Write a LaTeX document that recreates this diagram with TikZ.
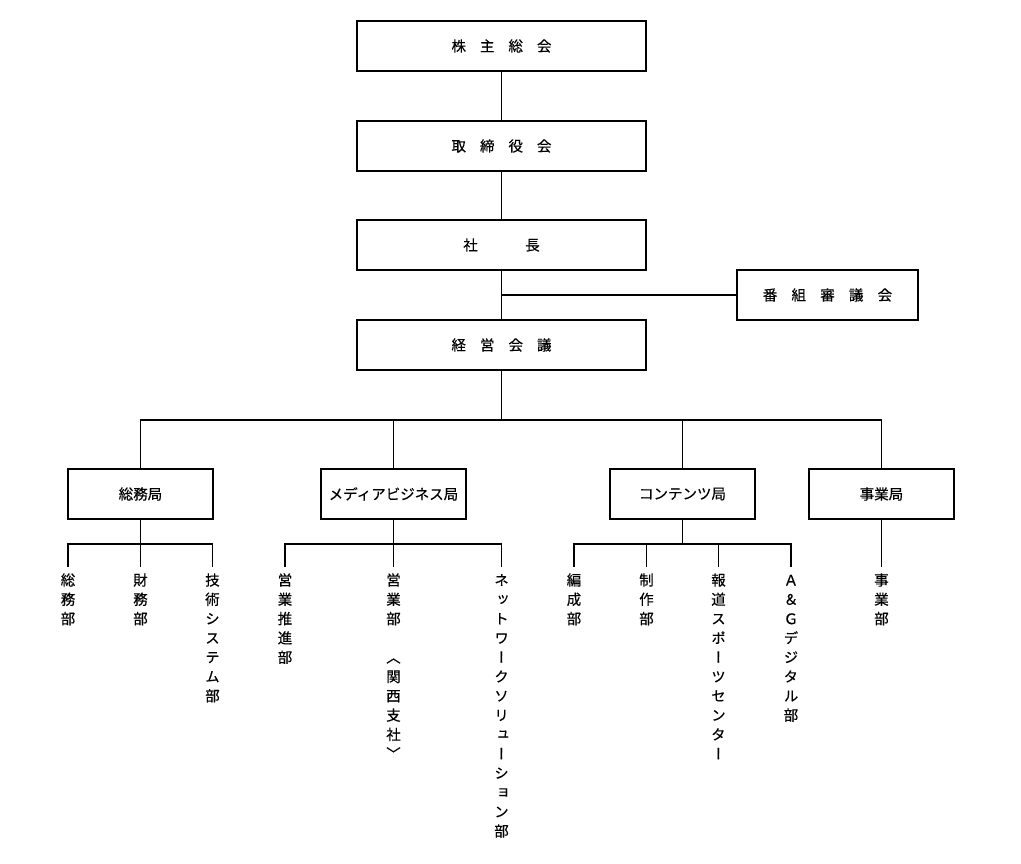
\documentclass[tikz,border=0pt]{standalone}
\usepackage{fontspec}
\setmainfont[FakeBold=0.35]{Noto Sans CJK JP}
\newfontfamily\vfont[RawFeature=+vert,FakeBold=0.35]{Noto Sans CJK JP}
\newcommand\vstrut{\rule{0pt}{13pt}}
\begin{document}
\begin{tikzpicture}[x=1pt,y=-1pt,
  box/.style={draw,line width=1.2pt,inner sep=0pt,minimum height=50pt,font=\fontsize{14.5}{17}\selectfont},
  topbox/.style={box,minimum width=289pt},
  burbox/.style={box,minimum width=145pt},
  col/.style={anchor=north,inner sep=0pt,align=center,font=\vfont\fontsize{14.5}{19.3}\selectfont},
  ln/.style={line width=1.2pt},
  leg/.style={ln,shorten >=5pt}]
\fill[white] (0,0) rectangle (1021,864);
\useasboundingbox (0,0) rectangle (1021,864);

% top chain
\node[topbox] (sh) at (501.5,46) {株\hspace{14pt}主\hspace{14pt}総\hspace{14pt}会};
\node[topbox] (tr) at (501.5,146) {取\hspace{14pt}締\hspace{14pt}役\hspace{14pt}会};
\node[topbox] (pr) at (501.5,245) {社\hspace{47.5pt}長};
\node[box,minimum width=181pt] (bg) at (827.5,295) {番\hspace{14.2pt}組\hspace{14.2pt}審\hspace{14.2pt}議\hspace{14.2pt}会};
\node[topbox] (km) at (501.5,345) {経\hspace{14pt}営\hspace{14pt}会\hspace{14pt}議};

\draw[ln] (sh) -- (tr);
\draw[ln] (tr) -- (pr);
\draw[ln] (pr) -- (km);
\draw[ln] (bg.west) -- (bg.west -| pr.south);

% bureaus
\node[burbox] (somu) at (140.5,494) {総務局};
\node[burbox] (media) at (393.5,494) {メディアビジネス局};
\node[burbox] (cont) at (682.5,494) {コンテンツ局};
\node[burbox] (jigyo) at (881.5,494) {事業局};

\coordinate (bus) at (501.5,420);
\draw[ln] (km) -- (bus);
\draw[ln] (bus) -| (somu);
\draw[ln] (bus) -| (media);
\draw[ln] (bus) -| (cont);
\draw[ln] (bus) -| (jigyo);

% departments (vertical text)
\node[col] (c11) at (68,572.3) {\vstrut 総\\務\\部};
\node[col] (c12) at (140.5,572.3) {\vstrut 財\\務\\部};
\node[col] (c13) at (212.5,572.3) {\vstrut 技\\術\\シ\\ス\\テ\\ム\\部};
\node[col] (c21) at (285,572.3) {\vstrut 営\\業\\推\\進\\部};
\node[col] (c22) at (393.5,572.3) {\vstrut 営\\業\\部\\[19.3pt]〈\\関\\西\\支\\社\\〉};
\node[col] (c23) at (501.5,572.3) {\vstrut ネ\\ッ\\ト\\ワ\\ー\\ク\\ソ\\リ\\ュ\\ー\\シ\\ョ\\ン\\部};
\node[col] (c31) at (574,572.3) {\vstrut 編\\成\\部};
\node[col] (c32) at (646.5,572.3) {\vstrut 制\\作\\部};
\node[col] (c33) at (718.5,572.3) {\vstrut 報\\道\\ス\\ポ\\ー\\ツ\\セ\\ン\\タ\\ー};
\node[col] (c34) at (791,572.3) {\vstrut Ａ\\＆\\Ｇ\\デ\\ジ\\タ\\ル\\部};
\node[col] (c41) at (881.5,572.3) {\vstrut 事\\業\\部};

% sub buses
\coordinate (s1) at (140.5,544);
\coordinate (s2) at (393.5,544);
\coordinate (s3) at (682.5,544);

\draw[ln] (somu) -- (s1);
\draw[leg] (s1) -| (c11.north);
\draw[leg] (s1) -- (c12.north);
\draw[leg] (s1) -| (c13.north);

\draw[ln] (media) -- (s2);
\draw[leg] (s2) -| (c21.north);
\draw[leg] (s2) -- (c22.north);
\draw[leg] (s2) -| (c23.north);

\draw[ln] (cont) -- (s3);
\draw[leg] (s3) -| (c31.north);
\draw[leg] (s3) -| (c32.north);
\draw[leg] (s3) -| (c33.north);
\draw[leg] (s3) -| (c34.north);

\draw[leg] (jigyo) -- (c41.north);
\end{tikzpicture}
\end{document}
